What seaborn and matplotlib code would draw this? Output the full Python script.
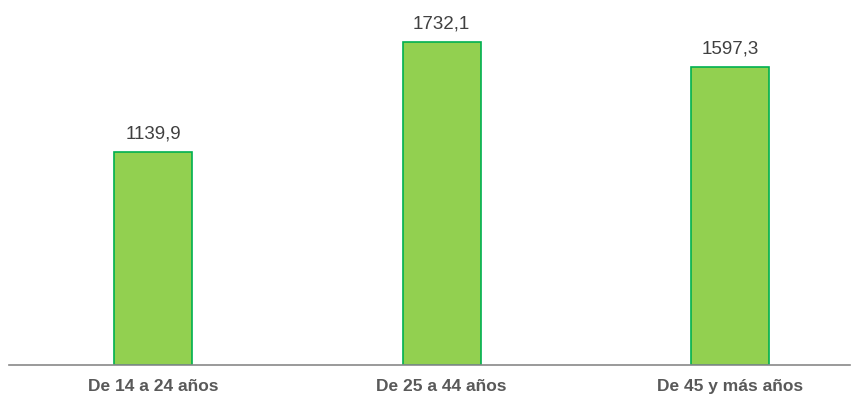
import matplotlib
matplotlib.use("Agg")
import matplotlib.pyplot as plt
import seaborn as sns
import pandas as pd

# Datos
categorias = ["De 14 a 24 años", "De 25 a 44 años", "De 45 y más años"]
valores = [1139.9, 1732.1, 1597.3]

df = pd.DataFrame({"grupo": categorias, "valor": valores})

sns.set_style("white")
plt.rcParams["font.family"] = ["Liberation Sans", "DejaVu Sans"]

fig = plt.figure(figsize=(8.61, 4.03), dpi=100)
ax = fig.add_axes([9 / 861, 38 / 403, 841 / 861, 365 / 403])

sns.barplot(data=df, x="grupo", y="valor", color="#92D050", width=0.27,
            edgecolor="#00B050", linewidth=1.2, saturation=1, ax=ax)

# Etiquetas de valor
for i, v in enumerate(valores):
    ax.text(i, v + 50, f"{v:.1f}".replace(".", ","), ha="center", va="bottom",
            fontsize=13.5, color="#404040")

ax.set_xlim(-0.5, -0.5 + 841 / 288.5)
ax.set_ylim(0, 1956)
ax.set_xlabel("")
ax.set_ylabel("")
ax.set_yticks([])
ax.tick_params(axis="x", length=0, pad=10)
for lbl in ax.get_xticklabels():
    lbl.set_fontweight("bold")
    lbl.set_fontsize(12.5)
    lbl.set_color("#595959")

for s in ["top", "right", "left"]:
    ax.spines[s].set_visible(False)
ax.spines["bottom"].set_color("#898989")
ax.spines["bottom"].set_linewidth(1.2)

fig.savefig("out.png", dpi=100)
